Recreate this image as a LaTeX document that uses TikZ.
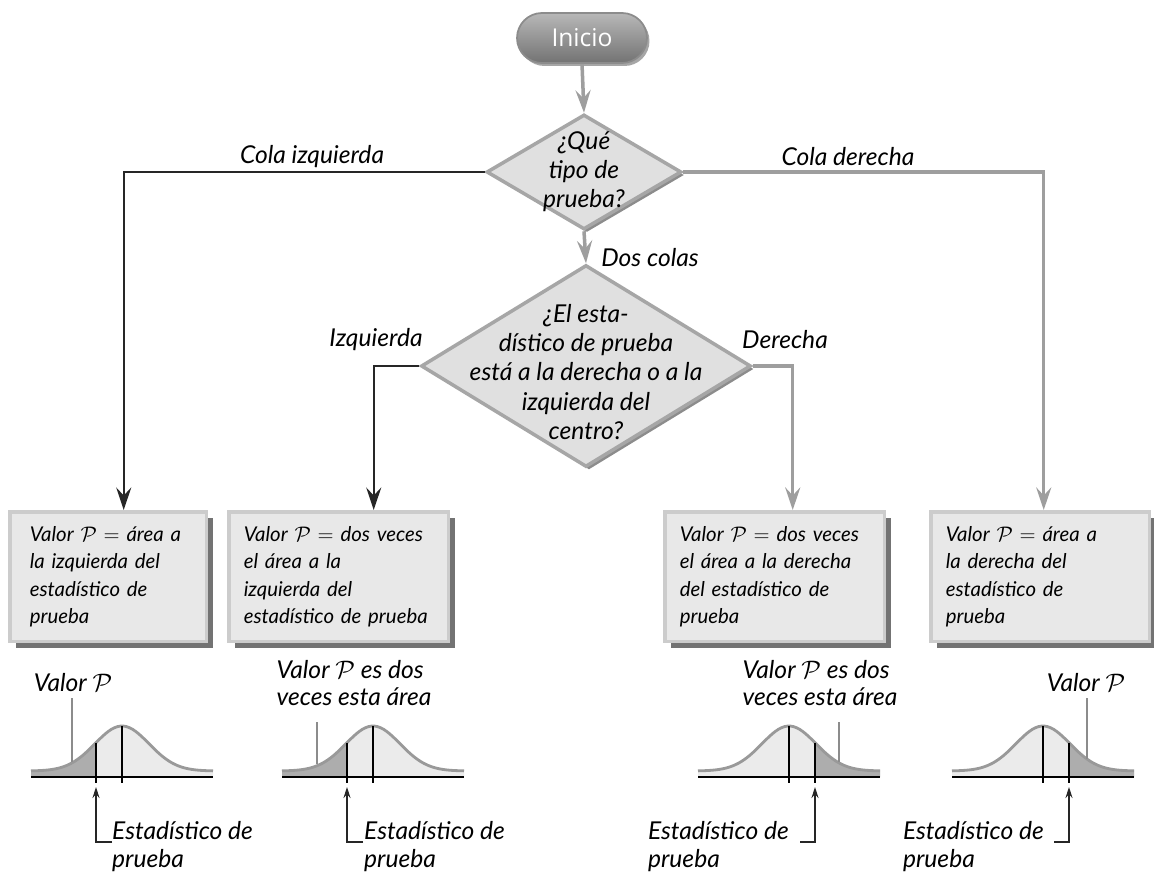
\documentclass[tikz,border=0pt]{standalone}
\usepackage{fontspec}
\setmainfont{Lato}
\newfontfamily\pillfont{Open Sans}
\usetikzlibrary{shapes.geometric, arrows.meta, positioning, shadows, calc}

\begin{document}
\begin{tikzpicture}[
    x=0.02cm, y=-0.02cm,
    hand/.style={font=\itshape\fontsize{14}{15.8}\selectfont},
    handq/.style={font=\itshape\fontsize{14}{16.6}\selectfont},
    boxtext/.style={font=\itshape\fontsize{11.6}{15.5}\selectfont},
    startnode/.style={rectangle, rounded corners=0.5cm, minimum width=2.6cm, minimum height=1.0cm, draw=black!45, line width=1pt, top color=black!28, bottom color=black!55, text=white, font=\pillfont\fontsize{14}{16}\selectfont, drop shadow={shadow xshift=0.05cm, shadow yshift=-0.06cm, fill=black!35, opacity=1}},
    decision/.style={diamond, draw=black!35, line width=2pt, fill=black!12, inner sep=0pt, drop shadow={shadow xshift=0.06cm, shadow yshift=-0.06cm, fill=black!45, opacity=1}},
    result/.style={rectangle, draw=black!20, line width=2pt, fill=black!9, anchor=north west, align=left, inner xsep=0.3cm, minimum height=2.6cm, boxtext, drop shadow={shadow xshift=0.12cm, shadow yshift=-0.12cm, fill=black!55, opacity=1}},
    arrow/.style={-{Stealth[length=4.5mm, width=3mm, inset=1.6mm]}, line width=1.2pt, draw=black!85},
    grayarrow/.style={arrow, draw=black!38, line width=2pt},
    lead/.style={draw=black!45, line width=0.6pt},
    ptr/.style={-{Stealth[length=2.2mm, width=1.4mm]}, draw=black!85, line width=0.7pt}
]
\useasboundingbox (0,0) rectangle (1154,879);
\fill[white] (0,0) rectangle (1154,879);

% 1. Start and decisions
\node[startnode] (start) at (582,38) {Inicio};
\node[decision, minimum width=3.9cm, minimum height=2.3cm] (q1) at (584,172) {};
\node[handq, align=center] (q1txt) at (584,172) {¿Qué\\tipo de\\prueba?};
\node[decision, minimum width=6.6cm, minimum height=4.04cm] (q2) at (586,366) {};
\node[handq, align=center] (q2txt) at (586,372) {¿El esta-\\dístico de prueba\\está a la derecha o a la\\izquierda del\\centro?};

% 2. Branch labels
\node[hand] (lcola) at (312,157) {Cola izquierda};
\node[hand] (rcola) at (848,157) {Cola derecha};
\node[hand] (dos) at (650,258) {Dos colas};
\node[hand] (izq) at (376,340) {Izquierda};
\node[hand] (der) at (785,340) {Derecha};

% 3. Result boxes
\node[result, text width=3.14cm, inner xsep=0.4cm] (box1) at (8,510) {Valor $\mathcal{P}$ $=$ área a\\la izquierda del\\estadístico de\\prueba};
\node[result, text width=3.8cm] (box2) at (227,510) {Valor $\mathcal{P}$ $=$ dos veces\\el área a la\\izquierda del\\estadístico de prueba};
\node[result, text width=3.8cm] (box3) at (663,510) {Valor $\mathcal{P}$ $=$ dos veces\\el área a la derecha\\del estadístico de\\prueba};
\node[result, text width=3.78cm] (box4) at (929,510) {Valor $\mathcal{P}$ $=$ área a\\la derecha del\\estadístico de\\prueba};

% 4. Connections
\draw[grayarrow] (start.south) -- (q1.north);
\draw[arrow] (q1.west) -| ([xshift=0.31cm]box1.north);
\draw[grayarrow] (q1.east) -| ([xshift=0.07cm]box4.north);
\draw[grayarrow] (q1.south) -- (q2.north);
\draw[arrow] (q2.west) -| ([xshift=0.7cm]box2.north);
\draw[grayarrow] (q2.east) -| ([xshift=0.36cm]box3.north);

% 5. Normal curves
\foreach \cx/\sx/\ta/\tb in {122/96/31/96, 373/347/282/347, 789/815/815/880, 1043/1069/1069/1134} {
  \pgfmathsetmacro\da{\ta-\cx}
  \pgfmathsetmacro\db{\tb-\cx}
  \pgfmathsetmacro\sy{771-45*exp(-0.5*((\sx-\cx)/27)^2)}
  \fill[black!8] plot[domain=-91:91, samples=60] ({\cx+\x}, {771-45*exp(-0.5*(\x/27)^2)}) -- (\cx+91,777) -- (\cx-91,777) -- cycle;
  \fill[black!32] plot[domain=\da:\db, samples=30] ({\cx+\x}, {771-45*exp(-0.5*(\x/27)^2)}) -- (\tb,777) -- (\ta,777) -- cycle;
  \draw[black!40, line width=1.6pt] plot[domain=-91:91, samples=60] ({\cx+\x}, {771-45*exp(-0.5*(\x/27)^2)});
  \draw[line width=0.8pt] (\cx-91,777) -- (\cx+91,777);
  \draw[line width=0.8pt] (\cx,726) -- (\cx,783);
  \draw[line width=0.8pt] (\sx,\sy) -- (\sx,783);
}

% 6. Curve labels
\node[hand] (pv1) at (73,683) {Valor $\mathcal{P}$};
\node[hand, align=left] (pv2) at (354,683) {Valor $\mathcal{P}$ es dos\\veces esta área};
\node[hand, align=left] (pv3) at (820,683) {Valor $\mathcal{P}$ es dos\\veces esta área};
\node[hand] (pv4) at (1086,683) {Valor $\mathcal{P}$};

\coordinate (t1) at (72,762);
\coordinate (t2) at (317,764);
\coordinate (t3) at (839,762);
\coordinate (t4) at (1087,759);
\draw[lead] (pv1.south -| t1) -- (t1);
\draw[lead] ([yshift=-0.2cm]pv2.south -| t2) -- (t2);
\draw[lead] ([yshift=-0.2cm]pv3.south -| t3) -- (t3);
\draw[lead] (pv4.south -| t4) -- (t4);

\node[hand, align=left, anchor=base west] (e1) at (106,867) {Estadístico de\\prueba};
\node[hand, align=left, anchor=base west] (e2) at (358,867) {Estadístico de\\prueba};
\node[hand, align=left, anchor=base east] (e3) at (795,867) {Estadístico de\\prueba};
\node[hand, align=left, anchor=base east] (e4) at (1050,867) {Estadístico de\\prueba};

\coordinate (s1) at (96,787);
\coordinate (s2) at (347,787);
\coordinate (s3) at (815,787);
\coordinate (s4) at (1069,787);
\draw[ptr] ([shift={(6,-25)}]e1.base west) -| (s1);
\draw[ptr] ([shift={(5,-25)}]e2.base west) -| (s2);
\draw[ptr] ([shift={(5,-25)}]e3.base east) -| (s3);
\draw[ptr] ([shift={(4,-25)}]e4.base east) -| (s4);

\end{tikzpicture}
\end{document}
